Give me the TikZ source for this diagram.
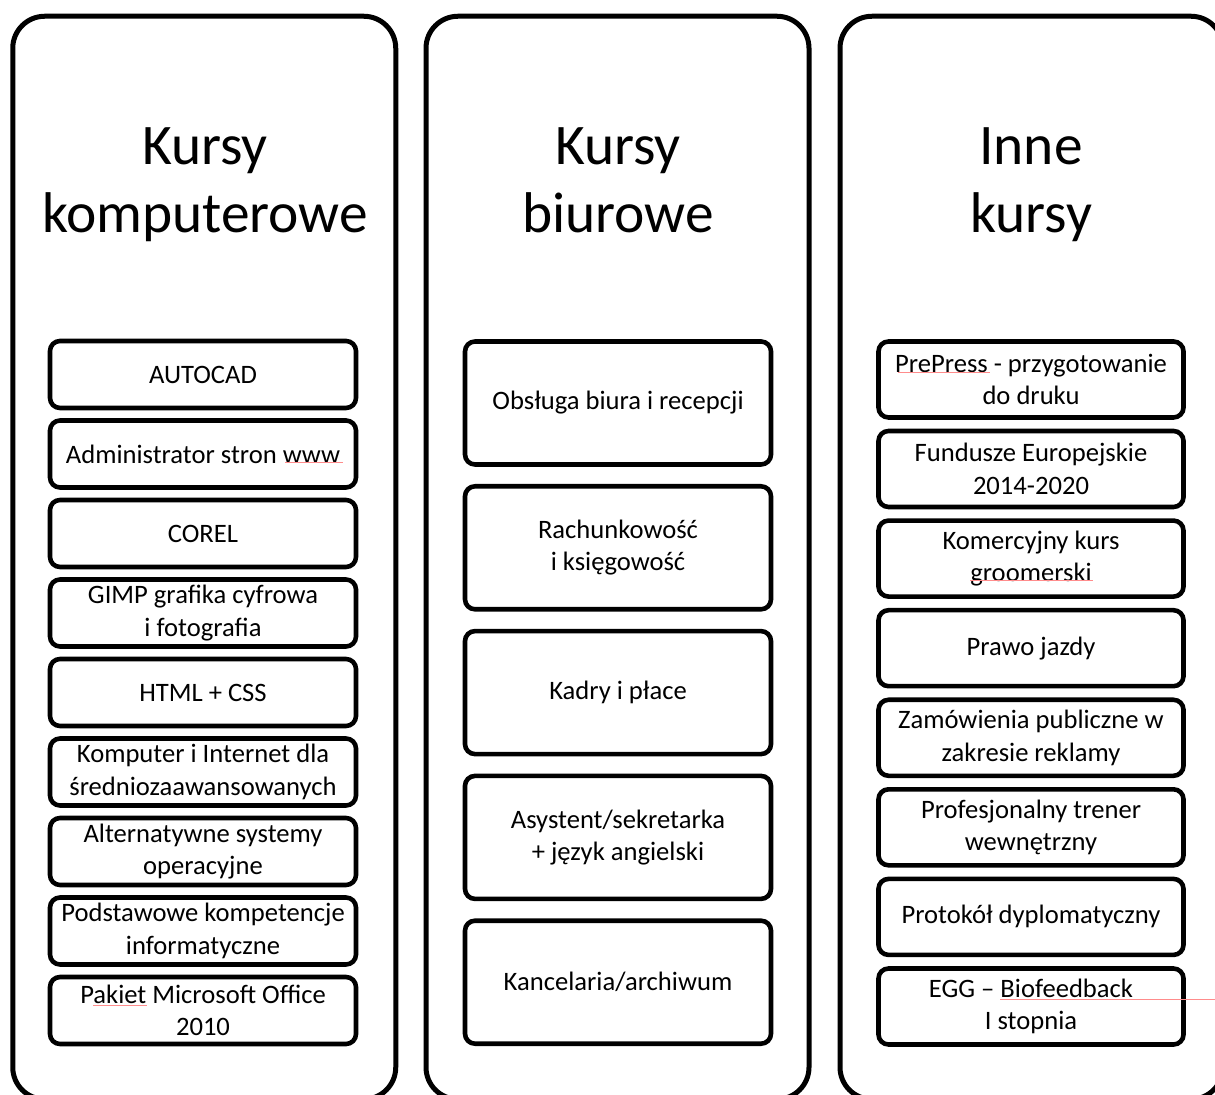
\documentclass[tikz,border=0pt]{standalone}
\usepackage{fontspec}
\setmainfont{Carlito}
\begin{document}
\begin{tikzpicture}[x=0.5pt, y=-0.5pt,
    column/.style={draw, line width=2.5pt, rounded corners=16pt,
        minimum width=191.5pt, minimum height=541.5pt, inner sep=0pt},
    heading/.style={align=center, font=\fontsize{28.7}{34}\selectfont},
    course/.style={draw, line width=2.3pt, rounded corners=5pt, align=center,
        inner sep=0pt, font=\fontsize{13.3}{16.2}\selectfont},
    compbox/.style={course, minimum width=153pt, minimum height=33.5pt},
    officebox/.style={course, minimum width=153pt, minimum height=61.5pt},
    otherbox/.style={course, minimum width=152.5pt, minimum height=38pt},
    spell/.style={red!45, line width=0.5pt}]
    \useasboundingbox (0,0) rectangle (1215,1095);
    \clip (0,0) rectangle (1215,1095);

    % Three columns, cut off at the bottom
    \node[column] (kolkomp) at (204.25, 557.75) {};
    \node[column] (kolbiuro) at (617.5, 557.75) {};
    \node[column] (kolinne) at (1031.5, 557.75) {};

    \node[heading] (tkomp) at (205, 185) {\strut Kursy\\komputerowe\strut};
    \node[heading] (tbiuro) at (618, 185) {\strut Kursy\\biurowe\strut};
    \node[heading] (tinne) at (1031, 185) {\strut Inne\\kursy\strut};

    % Computer courses
    \node[compbox] (komp1) at (203, 374.5) {AUTOCAD};
    \node[compbox] (komp2) at (203, 454) {Administrator stron www};
    \node[compbox] (komp3) at (203, 533.5) {COREL};
    \node[compbox] (komp4) at (203, 613) {GIMP grafika cyfrowa\\i fotografia};
    \node[compbox] (komp5) at (203, 692.5) {HTML + CSS};
    \node[compbox] (komp6) at (203, 772) {Komputer i Internet dla\\średniozaawansowanych};
    \node[compbox] (komp7) at (203, 851.5) {Alternatywne systemy\\operacyjne};
    \node[compbox] (komp8) at (203, 931) {Podstawowe kompetencje\\informatyczne};
    \node[compbox] (komp9) at (203, 1010.5) {Pakiet Microsoft Office\\2010};

    % Office courses
    \node[officebox] (biuro1) at (618, 403) {Obsługa biura i recepcji};
    \node[officebox] (biuro2) at (618, 547.8) {Rachunkowość\\i księgowość};
    \node[officebox] (biuro3) at (618, 692.6) {Kadry i płace};
    \node[officebox] (biuro4) at (618, 837.4) {Asystent/sekretarka\\+ język angielski};
    \node[officebox] (biuro5) at (618, 982.2) {Kancelaria/archiwum};

    % Other courses
    \node[otherbox] (inne1) at (1031, 379.5) {PrePress - przygotowanie\\do druku};
    \node[otherbox] (inne2) at (1031, 469) {Fundusze Europejskie\\2014-2020};
    \node[otherbox] (inne3) at (1031, 558.6) {Komercyjny kurs\\groomerski};
    \node[otherbox] (inne4) at (1031, 648.2) {Prawo jazdy};
    \node[otherbox] (inne5) at (1031, 737.8) {Zamówienia publiczne w\\zakresie reklamy};
    \node[otherbox] (inne6) at (1031, 827.3) {Profesjonalny trener\\wewnętrzny};
    \node[otherbox] (inne7) at (1031, 916.9) {Protokół dyplomatyczny};
    \node[otherbox] (inne8) at (1031, 1006.5) {EGG – Biofeedback\\I stopnia};

    % Spell-check marks
    \draw[spell] (285, 463) -- (343, 463);
    \draw[spell] (93, 1005) -- (147, 1005);
    \draw[spell] (898, 373) -- (990, 373);
    \draw[spell] (970, 581) -- (1093, 581);
    \draw[spell] (1000, 999) -- (1215, 999);
\end{tikzpicture}
\end{document}
